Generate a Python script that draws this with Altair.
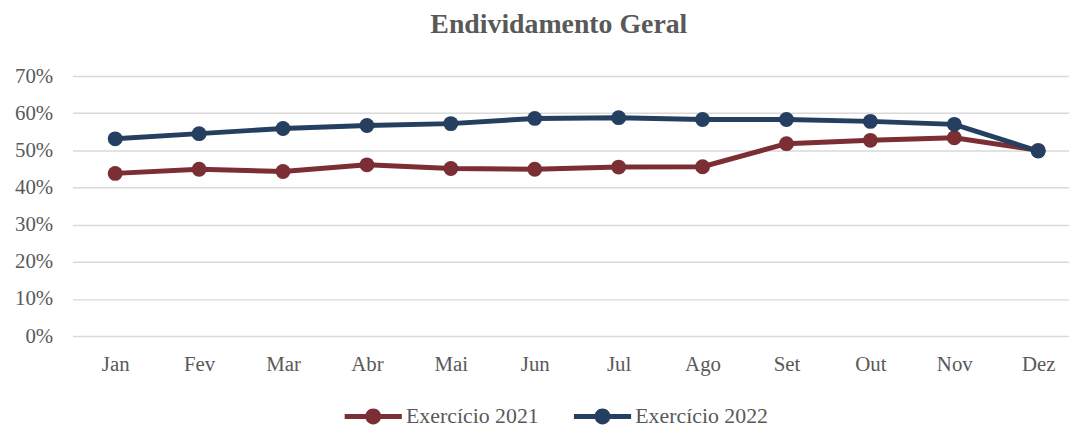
import altair as alt
import pandas as pd

months = ["Jan", "Fev", "Mar", "Abr", "Mai", "Jun", "Jul", "Ago", "Set", "Out", "Nov", "Dez"]
series_names = ["Exercício 2021", "Exercício 2022"]
v2021 = [43.8, 44.9, 44.3, 46.1, 45.1, 44.9, 45.5, 45.6, 51.8, 52.7, 53.4, 50.0]
v2022 = [53.1, 54.5, 55.9, 56.7, 57.2, 58.6, 58.8, 58.3, 58.3, 57.8, 57.0, 49.8]
y_ticks = [0, 0.1, 0.2, 0.3, 0.4, 0.5, 0.6, 0.7]

rows = []
for name, vals in zip(series_names, [v2021, v2022]):
    for i, (m, v) in enumerate(zip(months, vals)):
        rows.append({"idx": i, "mes": m, "serie": name, "valor": v / 100})
df = pd.DataFrame(rows)

FONT = "Liberation Serif"
TXT = "#595959"
colors = ["#7B2E33", "#243F60"]

legend_symbol = ("M-3.6,-0.3 L3.6,-0.3 L3.6,0.3 L-3.6,0.3 Z "
                 "M1,0 A1,1 0 1,1 -1,0 A1,1 0 1,1 1,0 Z")

month_array = "[" + ",".join("'" + m + "'" for m in months) + "]"

x_enc = alt.X("idx:Q",
              scale=alt.Scale(domain=[-0.5086, 11.367], nice=False, zero=False),
              axis=alt.Axis(title=None, domain=False, ticks=False, grid=False,
                            values=list(range(len(months))),
                            labelExpr=month_array + "[datum.value]",
                            labelAngle=0, labelPadding=18, labelFontSize=21,
                            labelFont=FONT, labelColor=TXT))
y_enc = alt.Y("valor:Q", scale=alt.Scale(domain=[0, 0.7], nice=False),
              axis=alt.Axis(title=None, format=".0%", values=y_ticks, domain=False,
                            ticks=False, grid=True, gridColor="#D9D9D9", gridWidth=1.5,
                            labelPadding=20, labelFontSize=21, labelFont=FONT,
                            labelColor=TXT))
color_enc = alt.Color("serie:N", scale=alt.Scale(domain=series_names, range=colors),
                      legend=alt.Legend(title=None, orient="none", direction="horizontal",
                                        legendX=292, legendY=332,
                                        symbolType=legend_symbol, symbolSize=256,
                                        symbolStrokeWidth=0, labelOffset=22,
                                        columnPadding=35, labelFontSize=22,
                                        labelFont=FONT, labelColor=TXT))

base = alt.Chart(df).encode(x=x_enc, y=y_enc, color=color_enc,
                            detail="serie:N", order="idx:Q")
lines = base.mark_line(strokeWidth=5)
points = base.mark_point(filled=True, size=225, opacity=1)

chart = alt.layer(lines, points).properties(
    width=1004, height=262,
    title=alt.TitleParams("Endividamento Geral", font=FONT, fontSize=28,
                          fontWeight="bold", color=TXT, anchor="middle",
                          dx=-12, offset=26),
    autosize=alt.AutoSizeParams(type="none"),
    padding={"left": 65, "top": 67, "right": 0, "bottom": 90},
).configure_view(stroke=None)

chart.save("out.html", embed_options={"renderer": "svg", "actions": False})
